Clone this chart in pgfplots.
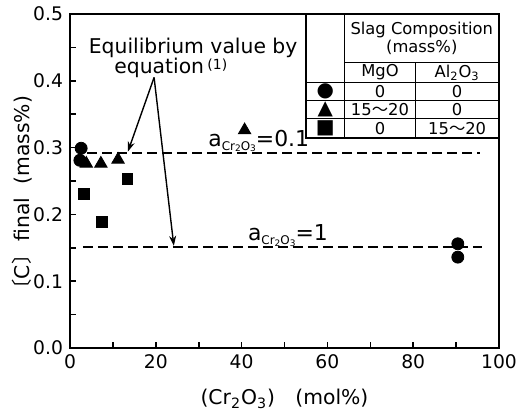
\documentclass[border=0pt]{standalone}
\usepackage{fontspec}
\setmainfont{DejaVu Sans}
\newfontfamily\cjk{Noto Sans CJK JP}
\usepackage{pgfplots}
\pgfplotsset{compat=1.18}
\usetikzlibrary{arrows.meta}

\newcommand{\acro}{a\raisebox{-0.35ex}{\fontsize{6}{6}\selectfont Cr\raisebox{-0.25ex}{\fontsize{4.5}{5}\selectfont 2}O\raisebox{-0.25ex}{\fontsize{4.5}{5}\selectfont 3}}}

\begin{document}
\begin{tikzpicture}[font=\fontsize{10.5}{12}\selectfont]
\begin{axis}[
  name=ax,
  scale only axis, width=214.5bp, height=167bp,
  xmin=0, xmax=100, ymin=0, ymax=0.5,
  xtick={0,20,40,60,80,100}, minor xtick={10,30,50,70,90},
  ytick={0,0.1,0.2,0.3,0.4,0.5}, minor ytick={0.05,0.15,0.25,0.35,0.45},
  xtick pos=left, ytick pos=left, tick align=inside,
  major tick length=3bp, minor tick length=3bp,
  axis line style={line width=1bp},
  every tick/.style={line width=0.8bp, black},
  /pgf/number format/assume math mode=true,
  yticklabel style={/pgf/number format/.cd, fixed, fixed zerofill, precision=1},
  tick label style={font=\fontsize{9.4}{11}\selectfont},
  xlabel={(Cr\textsubscript{2}O\textsubscript{3})\quad(mol\%)},
  ylabel={{\cjk 〔}C{\cjk 〕}\,final\ \ (mass\%)},
  label style={font=\fontsize{10.2}{12}\selectfont},
  xlabel style={yshift=-3bp},
  ylabel style={at={(axis description cs:-0.112,0.45)}, anchor=center},
  clip=false,
]
% equilibrium lines, eq. (1)
\addplot[black, line width=1bp, dash pattern=on 5bp off 2.5bp] coordinates {(4,0.292) (95.6,0.292)};
\addplot[black, line width=1bp, dash pattern=on 5bp off 2.5bp] coordinates {(3,0.151) (96,0.151)};

% MgO 0, Al2O3 0
\addplot[only marks, mark=*, mark size=3bp, black] coordinates {
  (2.6,0.299) (2.3,0.281) (90.4,0.156) (90.4,0.136)
};
% MgO 15~20
\addplot[only marks, mark=triangle*, mark size=3.6bp, black] coordinates {
  (3.8,0.276) (7.2,0.276) (11.2,0.282) (40.7,0.326)
};
% Al2O3 15~20
\addplot[only marks, mark=square*, mark size=2.7bp, black] coordinates {
  (3.2,0.231) (7.5,0.189) (13.4,0.253)
};

\node at (axis cs:44,0.31) {\fontsize{11}{12}\selectfont\acro{}=0.1};
\node at (axis cs:50.8,0.168) {\fontsize{11}{12}\selectfont\acro{}=1};

\node at (axis cs:28.7,0.45) {\fontsize{10.2}{11}\selectfont Equilibrium value by};
\node at (axis cs:23.5,0.42) {\fontsize{10.2}{11}\selectfont equation\,\raisebox{0.3ex}{\fontsize{7}{8}\selectfont(1)}};
\draw[line width=0.7bp, -{Stealth[length=5bp,width=3.5bp]}] (axis cs:19.6,0.405) -- (axis cs:13.5,0.294);
\draw[line width=0.7bp, -{Stealth[length=5bp,width=3.5bp]}] (axis cs:19.6,0.405) -- (axis cs:24.2,0.153);

% legend table
\draw[line width=1bp] (axis cs:55,0.5) rectangle (axis cs:100,0.314);
\draw[line width=0.6bp] (axis cs:64,0.5) -- (axis cs:64,0.314);
\draw[line width=0.6bp] (axis cs:80.5,0.427) -- (axis cs:80.5,0.314);
\draw[line width=0.6bp] (axis cs:64,0.427) -- (axis cs:100,0.427);
\draw[line width=0.6bp] (axis cs:55,0.398) -- (axis cs:100,0.398);
\draw[line width=0.6bp] (axis cs:55,0.371) -- (axis cs:100,0.371);
\draw[line width=0.6bp] (axis cs:55,0.343) -- (axis cs:100,0.343);
\begin{scope}[font=\fontsize{8.2}{9}\selectfont]
\node[align=center] at (axis cs:82,0.4635) {Slag Composition\\(mass\%)};
\node at (axis cs:72.25,0.4125) {MgO};
\node at (axis cs:90.25,0.4125) {Al\textsubscript{2}O\textsubscript{3}};
\node[font=\fontsize{10}{10}\selectfont] at (axis cs:59.5,0.3845) {●};
\node[font=\fontsize{10}{10}\selectfont] at (axis cs:59.5,0.357) {▲};
\node[font=\fontsize{10}{10}\selectfont] at (axis cs:59.5,0.3285) {■};
\node at (axis cs:72.25,0.3845) {0};
\node at (axis cs:90.25,0.3845) {0};
\node at (axis cs:72.25,0.357) {15{\cjk ～}20};
\node at (axis cs:90.25,0.357) {0};
\node at (axis cs:72.25,0.3285) {0};
\node at (axis cs:90.25,0.3285) {15{\cjk ～}20};
\end{scope}
\end{axis}
\pgfresetboundingbox
\path ([shift={(-35bp,-33bp)}]ax.south west) rectangle ([shift={(8.5bp,7bp)}]ax.north east);
\end{tikzpicture}
\end{document}
